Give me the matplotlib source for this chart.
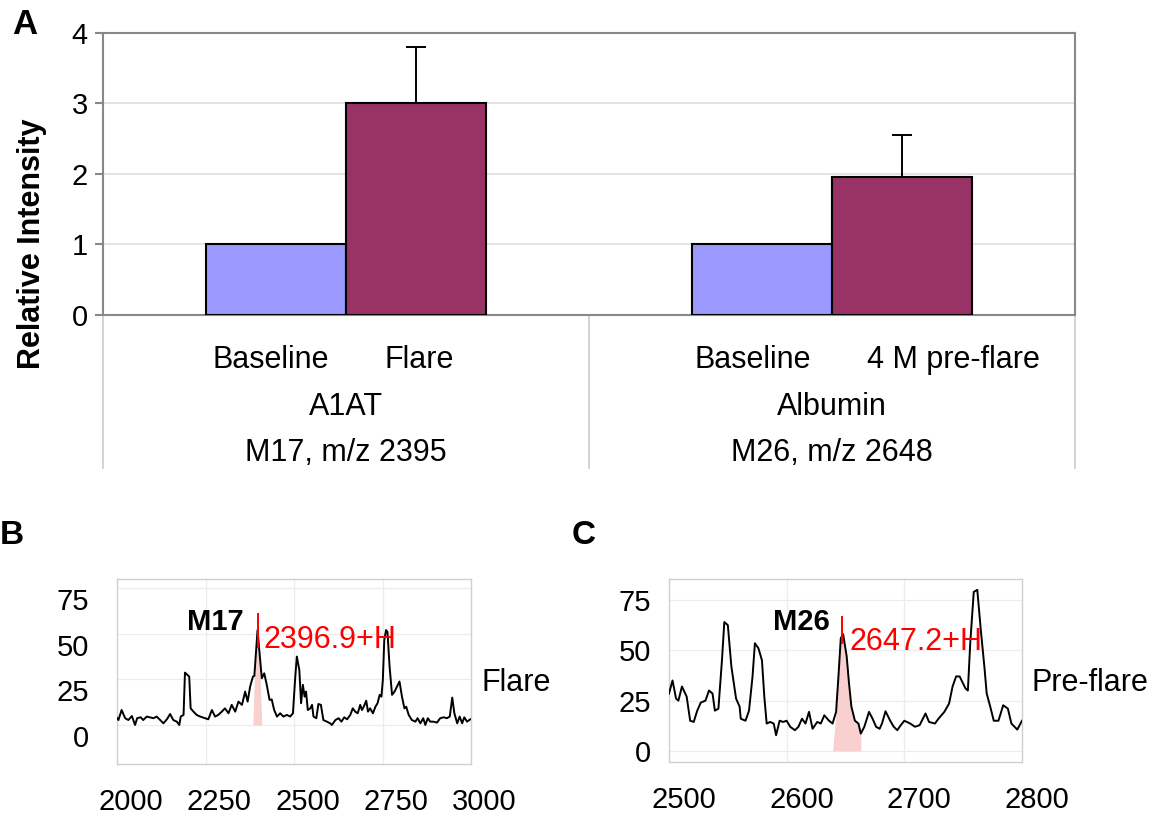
import numpy as np
import matplotlib.pyplot as plt
import matplotlib.transforms as mtransforms

plt.rcParams['font.family'] = ['Liberation Sans', 'DejaVu Sans']

# ---- panel A data ----
categories = ["A1AT", "Albumin"]
bar_labels = [["Baseline", "Flare"], ["Baseline", "4 M pre-flare"]]
peak_labels = ["M17, m/z 2395", "M26, m/z 2648"]
baseline = [1.0, 1.0]
disease = [3.0, 1.95]
disease_err = [0.8, 0.6]

# ---- panel B spectrum (flare) ----
b_mz = [1997, 2004, 2013, 2023, 2032, 2042, 2051, 2057, 2067, 2074,
        2084, 2093, 2103, 2112, 2122, 2131, 2141, 2150, 2159, 2169,
        2176, 2180, 2188, 2192, 2199, 2204, 2208, 2216, 2225, 2235,
        2249, 2258, 2268, 2277, 2286, 2296, 2305, 2315, 2324, 2334,
        2343, 2353, 2362, 2369, 2376, 2384, 2388, 2393, 2397, 2402,
        2409, 2416, 2423, 2431, 2437, 2444, 2452, 2461, 2470, 2480,
        2489, 2497, 2503, 2508, 2515, 2520, 2525, 2530, 2534, 2539,
        2546, 2551, 2555, 2563, 2569, 2576, 2583, 2593, 2602, 2607,
        2617, 2626, 2634, 2642, 2650, 2659, 2666, 2673, 2680, 2687,
        2692, 2697, 2704, 2709, 2715, 2723, 2730, 2736, 2742, 2747,
        2751, 2755, 2760, 2764, 2770, 2777, 2784, 2791, 2798, 2805,
        2812, 2817, 2824, 2833, 2843, 2849, 2857, 2865, 2871, 2878,
        2885, 2894, 2904, 2913, 2923, 2932, 2940, 2947, 2953, 2961,
        2968, 2975, 2981, 2989, 2998]
b_int = [4.6, 2.7, 8.2, 3.7, 2.7, 4.9, 0.0, 3.7, 4.2, 2.7,
         4.6, 4.2, 3.7, 4.6, 2.7, 0.9, 3.1, 6.0, 2.7, 1.8,
         0.0, 4.6, 5.5, 28.7, 27.4, 26.5, 9.1, 7.3, 5.5, 4.6,
         3.7, 3.1, 8.2, 4.6, 5.5, 7.3, 9.1, 6.4, 11.0, 7.3,
         12.8, 11.0, 18.3, 12.8, 21.0, 26.5, 26.9, 41.0, 52.0, 41.0,
         25.6, 28.3, 22.0, 13.7, 14.0, 8.2, 4.6, 6.4, 4.6, 5.5,
         4.6, 6.4, 24.7, 37.5, 30.2, 11.9, 22.0, 15.5, 18.3, 8.2,
         9.1, 11.0, 4.6, 3.7, 11.5, 11.0, 2.7, 1.8, 0.9, 0.0,
         2.7, 3.7, 1.8, 4.2, 3.1, 5.5, 9.1, 7.3, 6.4, 11.0,
         8.2, 10.0, 13.3, 7.3, 9.1, 6.4, 10.0, 11.9, 16.5, 15.5,
         24.7, 46.6, 52.0, 51.0, 32.0, 16.5, 18.3, 21.0, 23.8, 15.5,
         9.1, 10.0, 5.5, 2.7, 1.8, 3.7, 0.9, 3.7, 0.0, 3.7,
         1.8, 1.8, 1.3, 3.7, 4.2, 3.7, 4.6, 15.0, 6.4, 0.9,
         4.6, 0.9, 4.2, 1.8, 3.1]
b_shade = (2388, 2406)
b_peak = 2396.9

# ---- panel C spectrum (pre-flare) ----
c_mz = [2500, 2503, 2506, 2508, 2511, 2515, 2518, 2521, 2524, 2527,
        2531, 2534, 2537, 2539, 2542, 2545, 2547, 2550, 2553, 2557,
        2560, 2561, 2565, 2568, 2571, 2573, 2576, 2579, 2581, 2583,
        2586, 2589, 2591, 2594, 2597, 2600, 2603, 2607, 2610, 2613,
        2616, 2619, 2622, 2626, 2629, 2632, 2636, 2639, 2642, 2644,
        2646, 2648, 2651, 2653, 2655, 2658, 2661, 2663, 2666, 2670,
        2673, 2676, 2679, 2681, 2684, 2688, 2691, 2694, 2697, 2700,
        2705, 2709, 2713, 2718, 2721, 2726, 2729, 2734, 2738, 2741,
        2744, 2747, 2752, 2754, 2756, 2759, 2762, 2765, 2768, 2770,
        2773, 2776, 2780, 2784, 2788, 2791, 2796, 2800]
c_int = [28.5, 35, 26, 25, 32, 27, 15, 14.4, 20, 24,
         25, 30, 28.5, 20, 21, 45, 64, 62.5, 42, 26,
         22, 16, 15, 20, 37, 53.5, 51, 45, 27, 13.6,
         14.4, 13.6, 7.8, 15, 14.4, 15, 12, 10.3, 12, 16,
         13.6, 19.4, 11, 14.4, 13.6, 17.7, 15, 13.6, 19.4, 37,
         56, 58, 47, 33.5, 22, 15, 13.6, 8.6, 12, 19.4,
         16, 12, 11, 13.6, 19.7, 15, 12, 10.3, 12.8, 15,
         13.6, 12, 12.8, 18.6, 14.4, 13.6, 16, 19.4, 23.5, 32,
         37, 37, 31, 30, 53.4, 79, 80, 60, 42, 28.5,
         22, 15, 15, 22.7, 21, 13.6, 10.6, 15]
c_shade = (2641, 2663)
c_peak = 2647.2

W, H = 1163, 815
fig = plt.figure(figsize=(W / 100, H / 100), dpi=100)


def px_axes(x0, y0, x1, y1):
    return fig.add_axes([x0 / W, 1 - y1 / H, (x1 - x0) / W, (y1 - y0) / H])


def shift_labels(labels, dx, dy):
    off = mtransforms.ScaledTranslation(dx / 100, -dy / 100, fig.dpi_scale_trans)
    for lab in labels:
        lab.set_transform(lab.get_transform() + off)


# ================= panel A =================
ax = px_axes(103, 32.5, 1075, 315)
x = np.arange(len(categories))
w = 0.288
ax.bar(x - w / 2, baseline, w, color='#9999ff', edgecolor='black', linewidth=1.5, zorder=3)
ax.bar(x + w / 2, disease, w, color='#993366', edgecolor='black', linewidth=1.5, zorder=3)
ax.errorbar(x + w / 2, disease, yerr=[np.zeros(len(x)), disease_err], fmt='none',
            ecolor='black', elinewidth=1.4, capsize=7, capthick=1.4, zorder=4)
ax.set_xlim(-0.5, len(categories) - 0.5)
ax.set_ylim(0, 4)
ax.set_yticks([0, 1, 2, 3, 4])
ax.set_xticks([])
ax.yaxis.grid(True, color='#dedede', linewidth=1.2)
ax.set_axisbelow(True)
for sp in ax.spines.values():
    sp.set_color('#888888')
    sp.set_linewidth(1.5)
ax.tick_params(axis='y', length=6, width=1.5, color='#888888', labelsize=21, pad=5)

# where the two sub-labels sit, relative to the category centre (layout only)
sub_pos = [[-0.154, 0.150], [-0.163, 0.249]]
trans = mtransforms.blended_transform_factory(ax.transData, ax.transAxes)
for i, cat in enumerate(categories):
    for j in range(2):
        ax.text(i + sub_pos[i][j], -0.159, bar_labels[i][j], transform=trans,
                ha='center', va='center', fontsize=22)
    ax.text(i, -0.326, cat, transform=trans, ha='center', va='center', fontsize=22)
    ax.text(i, -0.488, peak_labels[i], transform=trans, ha='center', va='center', fontsize=22)
for xb in np.arange(len(categories) + 1) - 0.5:
    ax.plot([xb, xb], [0, -0.54], transform=trans, color='#cccccc', linewidth=1.2, clip_on=False)

fig.text(32 / W, 1 - 244 / H, "Relative Intensity", rotation=90, ha='center', va='center',
         fontsize=22, fontweight='bold')
fig.text(12 / W, 1 - 25 / H, "A", ha='left', va='center', fontsize=25, fontweight='bold')


# ================= panels B and C =================
def spectrum(ax, mz, inten, shade, xlim, ylim, xticks, xgrid):
    mz = np.array(mz)
    inten = np.array(inten)
    sel = (mz >= shade[0]) & (mz <= shade[1])
    ax.fill_between(mz, 0, inten, where=sel, color='#f8d0d0', linewidth=0, interpolate=True, zorder=2)
    ax.plot(mz, inten, color='black', linewidth=1.4, zorder=3)
    ax.set_xlim(*xlim)
    ax.set_ylim(*ylim)
    ax.set_xticks(xticks)
    ax.set_yticks([0, 25, 50, 75])
    for g in xgrid:
        ax.axvline(g, color='#ececec', linewidth=0.9, zorder=1)
    ax.yaxis.grid(True, color='#ececec', linewidth=0.9)
    ax.set_axisbelow(True)
    for sp in ax.spines.values():
        sp.set_color('#d0d0d0')
        sp.set_linewidth(1)
    ax.tick_params(length=0, labelsize=21)
    return ax


axb = px_axes(117, 579, 471, 764)
spectrum(axb, b_mz, b_int, b_shade, (2000, 3000), (-21.4, 80),
         [2000, 2250, 2500, 2750, 3000], [2250, 2500, 2750])
axb.tick_params(axis='x', pad=17)
axb.tick_params(axis='y', pad=20)
shift_labels(axb.get_xticklabels(), 13.5, 0)
shift_labels(axb.get_yticklabels(), 0, 11)
axb.plot([b_peak, b_peak], [42.7, 60.8], color='red', linewidth=1.4, zorder=4)
axb.text(b_peak + 17, 46.6, "2396.9+H", color='red', fontsize=22, ha='left', va='center')
axb.text(2359, 56.6, "M17", fontsize=21, fontweight='bold', ha='right', va='center')
fig.text(481 / W, 1 - 683 / H, "Flare", fontsize=22, ha='left', va='center')
fig.text(0 / W, 1 - 535 / H, "B", fontsize=24, fontweight='bold', ha='left', va='center')

axc = px_axes(669, 579, 1022, 762)
spectrum(axc, c_mz, c_int, c_shade, (2500, 2800), (-5.5, 85.4),
         [2500, 2600, 2700, 2800], [2600, 2700])
axc.tick_params(axis='x', pad=17)
axc.tick_params(axis='y', pad=13)
shift_labels(axc.get_xticklabels(), 15, 0)
axc.plot([c_peak, c_peak], [53.4, 66.6], color='red', linewidth=1.4, zorder=4)
axc.text(c_peak + 6, 54.2, "2647.2+H", color='red', fontsize=22, ha='left', va='center')
axc.text(2637, 64.2, "M26", fontsize=21, fontweight='bold', ha='right', va='center')
fig.text(1031 / W, 1 - 683 / H, "Pre-flare", fontsize=22, ha='left', va='center')
fig.text(572 / W, 1 - 535 / H, "C", fontsize=24, fontweight='bold', ha='left', va='center')

fig.savefig("out.png", dpi=100)
